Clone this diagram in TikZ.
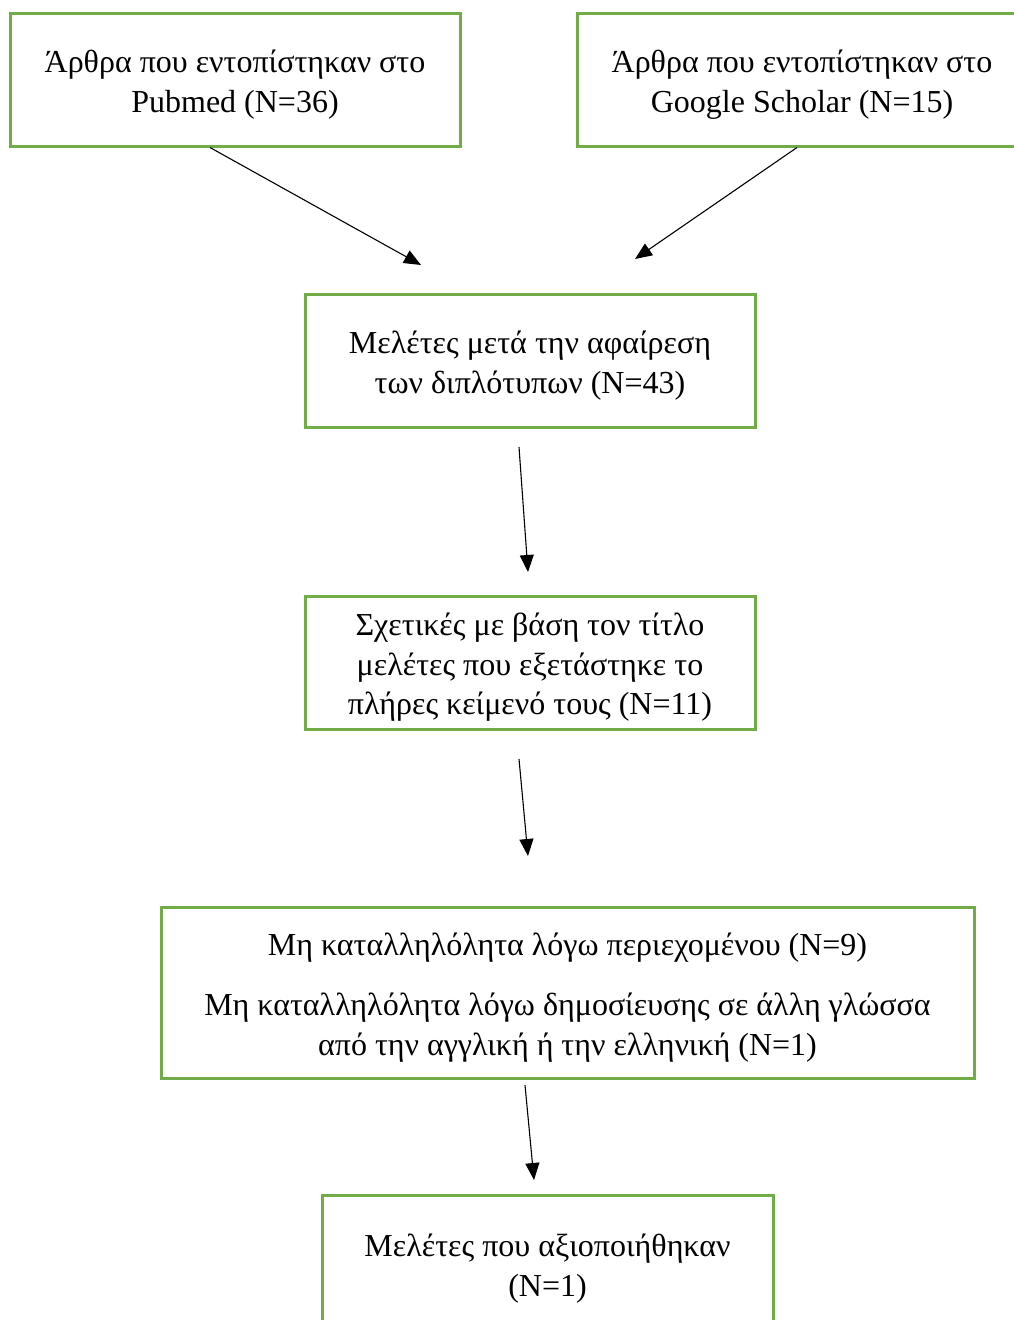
\documentclass[tikz,border=0pt]{standalone}
\usepackage{fontspec}
\setmainfont{Liberation Serif}
\usetikzlibrary{arrows.meta}
\definecolor{boxgreen}{RGB}{112,173,71}
\begin{document}
\begin{tikzpicture}[x=1pt,y=-1pt,
  box/.style={draw=boxgreen,line width=3pt,rectangle,inner sep=0pt},
  txt/.style={align=center,inner sep=0pt,yshift=-5pt,
    font=\fontsize{32}{39.5}\selectfont},
  arr/.style={line width=1.1pt,-{Triangle[length=17pt,width=14pt]}}]
\clip (0,0) rectangle (1014,1320);
\fill[white] (0,0) rectangle (1014,1320);
\node[box,minimum width=450pt,minimum height=133pt] (b1) at (235,79.5) {};
\node[txt] (t1) at (b1.center) {Άρθρα που εντοπίστηκαν στο\\Pubmed (N=36)};
\node[box,minimum width=450pt,minimum height=133pt] (b2) at (802,79.5) {};
\node[txt] (t2) at (b2.center) {Άρθρα που εντοπίστηκαν στο\\Google Scholar (N=15)};
\node[box,minimum width=450pt,minimum height=133pt] (b3) at (530,360.5) {};
\node[txt] (t3) at (b3.center) {Μελέτες μετά την αφαίρεση\\των διπλότυπων (N=43)};
\node[box,minimum width=450pt,minimum height=133pt] (b4) at (530,662.5) {};
\node[txt] (t4) at (b4.center) {Σχετικές με βάση τον τίτλο\\μελέτες που εξετάστηκε το\\πλήρες κείμενό τους (N=11)};
\node[box,minimum width=813pt,minimum height=171pt] (b5) at (567.5,992.5) {};
\node[txt] (t5) at (b5.center) {Μη καταλληλόλητα λόγω περιεχομένου (N=9)\\[21pt]Μη καταλληλόλητα λόγω δημοσίευσης σε άλλη γλώσσα\\από την αγγλική ή την ελληνική (N=1)};
\node[box,minimum width=451pt,minimum height=137pt] (b6) at (547.5,1263.5) {};
\node[txt] (t6) at (b6.center) {Μελέτες που αξιοποιήθηκαν\\(N=1)};
\coordinate (e1) at (421,265);
\coordinate (e2) at (635,259);
\coordinate (s3) at (519,447);
\coordinate (e3) at (528,572);
\coordinate (s4) at (519,759);
\coordinate (e4) at (528,856);
\coordinate (s5) at (525,1085);
\coordinate (e5) at (534,1180);
\draw[arr] (b1.south -| 210,0) -- (e1);
\draw[arr] (b2.south -| 797,0) -- (e2);
\draw[arr] (s3) -- (e3);
\draw[arr] (s4) -- (e4);
\draw[arr] (s5) -- (e5);
\end{tikzpicture}
\end{document}
